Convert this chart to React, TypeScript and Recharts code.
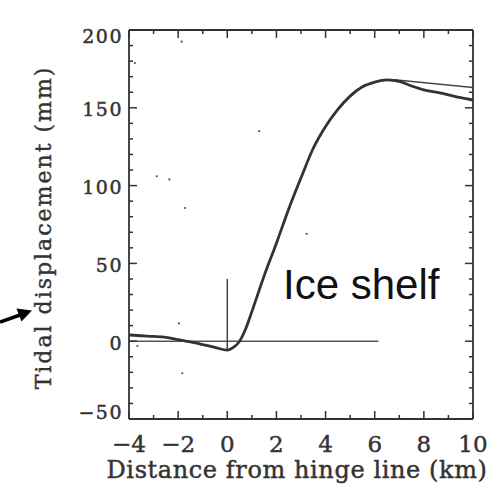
import React from 'react';
import { ComposedChart, Line, XAxis, YAxis, Scatter, Label } from 'recharts';

// distance from hinge line (km) and tidal displacement (mm)
const distKm = [-4, -3.5, -3, -2.5, -2, -1.5, -1, -0.5, 0, 0.25, 0.5, 0.75, 1, 1.5, 2, 2.5, 3, 3.5, 4, 4.5, 5, 5.5, 6, 6.5, 7, 7.5, 8, 8.5, 9, 9.5, 10];
const tidalMm = [4, 3.5, 3.1, 2.5, 1, -0.5, -2.2, -4, -5.7, -4, 0, 8, 19, 42, 63, 85, 105, 124, 138, 149, 157.5, 163.5, 166.5, 168, 167, 164, 161.5, 160, 158.3, 156.5, 155];

// thin model line that splits off after the peak
const modelKm = [6.8, 10];
const modelMm = [168, 163];

// zero line and hinge marker
const zeroKm = [-4, 6.15];
const zeroMm = [0, 0];
const hingeKm = [0, 0];
const hingeMm = [-5.7, 40];

// stray points in the scan
const strayKm = [-1.86, -3.76, -2.87, -2.36, -1.72, 1.3, 3.23, -1.97, -1.83, -3.66];
const strayMm = [192.5, 178.8, 106, 104, 85.6, 135, 69, 11.4, -20.6, -3.1];

const xTicks = [-4, -3, -2, -1, 0, 1, 2, 3, 4, 5, 6, 7, 8, 9, 10];
const yTicks = [-50, -40, -30, -20, -10, 0, 10, 20, 30, 40, 50, 60, 70, 80, 90, 100, 110, 120, 130, 140, 150, 160, 170, 180, 190, 200];

const zip = (xs: number[], ys: number[]) => xs.map((x, i) => ({ x, y: ys[i] }));

const curveData = zip(distKm, tidalMm);
const modelData = zip(modelKm, modelMm);
const zeroData = zip(zeroKm, zeroMm);
const hingeData = zip(hingeKm, hingeMm);
const strayData = zip(strayKm, strayMm);

const ink = '#333';
const serif = '"DejaVu Serif", serif';

const fmt = (v: number) => (v < 0 ? `\u2212${Math.abs(v)}` : `${v}`);

const BottomTick = (p: any) => {
  const v = p.payload.value;
  const major = v % 2 === 0;
  return (
    <g>
      <line x1={p.x} y1={p.y} x2={p.x} y2={p.y - (major ? 8 : 4)} stroke={ink} strokeWidth={1.5} />
      {major && (
        <text x={p.x} y={p.y + 33} textAnchor="middle" fontFamily={serif} fontSize={23} fill={ink} stroke={ink} strokeWidth={0.45}>
          {fmt(v)}
        </text>
      )}
    </g>
  );
};

const TopTick = (p: any) => {
  const major = p.payload.value % 2 === 0;
  return <line x1={p.x} y1={p.y} x2={p.x} y2={p.y + (major ? 8 : 4)} stroke={ink} strokeWidth={1.5} />;
};

const LeftTick = (p: any) => {
  const v = p.payload.value;
  const major = v % 50 === 0;
  const shift = v === 200 ? 6 : v === -50 ? -7 : 1.5;
  return (
    <g>
      <line x1={p.x} y1={p.y} x2={p.x + (major ? 8 : 4)} y2={p.y} stroke={ink} strokeWidth={1.5} />
      {major && (
        <text x={p.x - 6} y={p.y + shift} dy="0.36em" textAnchor="end" fontFamily={serif} fontSize={19} letterSpacing={1.5} fill={ink} stroke={ink} strokeWidth={0.45}>
          {fmt(v)}
        </text>
      )}
    </g>
  );
};

const RightTick = (p: any) => {
  const major = p.payload.value % 50 === 0;
  return <line x1={p.x} y1={p.y} x2={p.x - (major ? 8 : 4)} y2={p.y} stroke={ink} strokeWidth={1.5} />;
};

const App = () => {
  return (
    <div style={{ position: 'absolute', left: 0, top: 0, width: 490, height: 486, background: '#fff' }}>
      <ComposedChart width={490} height={486} margin={{ top: 20, right: 7, bottom: 27, left: 49 }}>
        <XAxis
          dataKey="x"
          type="number"
          domain={[-4, 10]}
          ticks={xTicks}
          interval={0}
          allowDataOverflow
          height={40}
          tickSize={0}
          tickMargin={0}
          tickLine={false}
          axisLine={{ stroke: ink, strokeWidth: 1.8 }}
          tick={BottomTick}
        >
          <Label
            content={({ viewBox }: any) => (
              <text
                x={viewBox.x + viewBox.width / 2 - 4}
                y={478}
                textAnchor="middle"
                fontFamily={serif}
                fontSize={24}
                letterSpacing={0.6}
                fill={ink}
                stroke={ink}
                strokeWidth={0.45}
              >
                Distance from hinge line (km)
              </text>
            )}
          />
        </XAxis>
        <XAxis
          xAxisId="top"
          orientation="top"
          dataKey="x"
          type="number"
          domain={[-4, 10]}
          ticks={xTicks}
          interval={0}
          allowDataOverflow
          height={10}
          tickSize={0}
          tickMargin={0}
          tickLine={false}
          axisLine={{ stroke: ink, strokeWidth: 1.8 }}
          tick={TopTick}
        />
        <YAxis
          type="number"
          domain={[-50, 200]}
          ticks={yTicks}
          interval={0}
          allowDataOverflow
          width={80}
          tickSize={0}
          tickMargin={0}
          tickLine={false}
          axisLine={{ stroke: ink, strokeWidth: 1.8 }}
          tick={LeftTick}
        >
          <Label
            content={({ viewBox }: any) => {
              const cy = viewBox.y + viewBox.height / 2 + 3;
              return (
                <text
                  x={51}
                  y={cy}
                  transform={`rotate(-90, 51, ${cy})`}
                  textAnchor="middle"
                  fontFamily={serif}
                  fontSize={22}
                  letterSpacing={2}
                  fill={ink}
                  stroke={ink}
                  strokeWidth={0.4}
                >
                  Tidal displacement (mm)
                </text>
              );
            }}
          />
        </YAxis>
        <YAxis
          yAxisId="right"
          orientation="right"
          type="number"
          domain={[-50, 200]}
          ticks={yTicks}
          interval={0}
          allowDataOverflow
          width={10}
          tickSize={0}
          tickMargin={0}
          tickLine={false}
          axisLine={{ stroke: ink, strokeWidth: 1.8 }}
          tick={RightTick}
        />
        <Line data={zeroData} dataKey="y" type="linear" stroke="#555" strokeWidth={1.5} dot={false} isAnimationActive={false} />
        <Line data={hingeData} dataKey="y" type="linear" stroke="#444" strokeWidth={1.5} dot={false} isAnimationActive={false} />
        <Line data={modelData} dataKey="y" type="linear" stroke="#444" strokeWidth={1.5} dot={false} isAnimationActive={false} />
        <Line data={curveData} dataKey="y" type="monotone" stroke={ink} strokeWidth={2.8} dot={false} isAnimationActive={false} />
        <Scatter data={strayData} dataKey="y" fill="#555" shape={(p: any) => <circle cx={p.cx} cy={p.cy} r={1.1} fill="#555" />} isAnimationActive={false} />
      </ComposedChart>
      <svg width={490} height={486} style={{ position: 'absolute', left: 0, top: 0, pointerEvents: 'none' }}>
        <line x1={0} y1={322} x2={20} y2={315} stroke="#000" strokeWidth={3.5} />
        <polygon points="32,310.5 16.5,308.5 21.5,321.5" fill="#000" />
        <text x={283} y={299} fontFamily='"Liberation Sans", Arial, sans-serif' fontSize={42} fill="#111">
          Ice shelf
        </text>
      </svg>
    </div>
  );
};

export default App;
